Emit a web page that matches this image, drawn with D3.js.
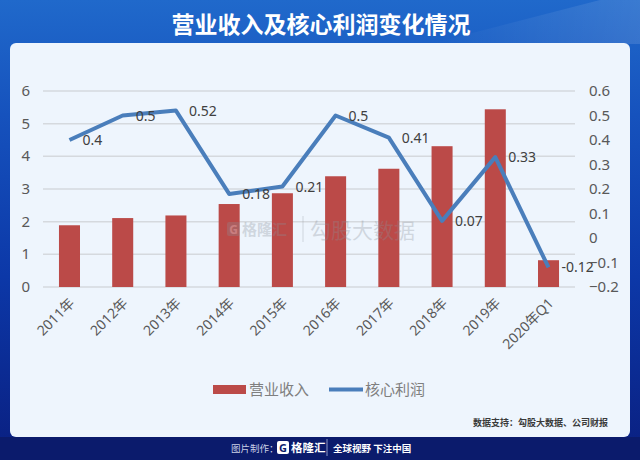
<!DOCTYPE html>
<html><head><meta charset="utf-8">
<script src="https://cdn.jsdelivr.net/npm/d3@7/dist/d3.min.js"></script>
<style>html,body{margin:0;padding:0;background:#0c1b6c;}svg{display:block;}</style>
</head><body>
<svg id="c" width="640" height="460"></svg>
<script>
const categories = ["2011年","2012年","2013年","2014年","2015年","2016年","2017年","2018年","2019年","2020年Q1"];
const revenue = [1.89, 2.11, 2.19, 2.54, 2.87, 3.39, 3.62, 4.31, 5.44, 0.82];
const coreProfit = [0.4, 0.5, 0.52, 0.18, 0.21, 0.5, 0.41, 0.07, 0.33, -0.12];
const profitLabels = ["0.4","0.5","0.52","0.18","0.21","0.5","0.41","0.07","0.33","-0.12"];
const leftTicks = [0,1,2,3,4,5,6];
const rightTicks = [-0.2,-0.1,0,0.1,0.2,0.3,0.4,0.5,0.6];
const title = "营业收入及核心利润变化情况";
const legendNames = ["营业收入","核心利润"];
const source = "数据支持：勾股大数据、公司财报";

const svg = d3.select("#c");
const FONT = "'Noto Sans','Noto Sans CJK SC',sans-serif";
const CJK = "'Noto Sans CJK SC','Noto Sans',sans-serif";

// background
const defs = svg.append("defs");
const bg = defs.append("linearGradient").attr("id","bg").attr("x1",0).attr("y1",0).attr("x2",0).attr("y2",1);
bg.append("stop").attr("offset","0%").attr("stop-color","#2069cb");
bg.append("stop").attr("offset","25%").attr("stop-color","#1652bd");
bg.append("stop").attr("offset","60%").attr("stop-color","#0c38a8");
bg.append("stop").attr("offset","100%").attr("stop-color","#0a1f80");
svg.append("rect").attr("width",640).attr("height",460).attr("fill","url(#bg)");
const hl = defs.append("linearGradient").attr("id","hl").attr("x1",0).attr("y1",0).attr("x2",1).attr("y2",0);
hl.append("stop").attr("offset","0%").attr("stop-color","#ffffff").attr("stop-opacity",0);
hl.append("stop").attr("offset","100%").attr("stop-color","#ffffff").attr("stop-opacity",0.12);
svg.append("path").attr("d","M430,44 L600,0 L640,0 L640,44 Z").attr("fill","url(#hl)");
svg.append("rect").attr("x",0).attr("y",437).attr("width",640).attr("height",23).attr("fill","#0b1b6c");

svg.append("text").attr("x",321).attr("y",33).attr("text-anchor","middle")
  .attr("font-family",CJK).attr("font-weight","bold").attr("font-size",23)
  .attr("fill","#ffffff").text(title);

// card
svg.append("rect").attr("x",10).attr("y",43).attr("width",620).attr("height",394).attr("rx",6)
  .attr("fill","#eef5fd");

// scales
const x = d3.scaleBand().domain(categories).range([43,575]).paddingInner(0.605).paddingOuter(0.3);
const yL = d3.scaleLinear().domain([0,6]).range([287,91]);
const yR = d3.scaleLinear().domain([-0.2,0.6]).range([287,91]);

// grid
svg.append("g").selectAll("line").data(leftTicks).join("line")
  .attr("x1",43).attr("x2",575).attr("y1",d=>yL(d)).attr("y2",d=>yL(d))
  .attr("stroke","#d5d9de").attr("stroke-width",1.5);

// bars
svg.append("g").selectAll("rect").data(revenue).join("rect")
  .attr("x",(d,i)=>x(categories[i])).attr("width",x.bandwidth())
  .attr("y",d=>yL(d)).attr("height",d=>yL(0)-yL(d)).attr("fill","#bb4a48");

// watermark (on top, translucent)
const wm = svg.append("g").attr("opacity",0.3);
wm.append("rect").attr("x",227).attr("y",222).attr("width",13).attr("height",14).attr("rx",2).attr("fill","#8a9099");
wm.append("text").attr("x",233.5).attr("y",234).attr("text-anchor","middle").attr("font-family",FONT).attr("font-weight","bold").attr("font-size",12).attr("fill","#eef5fd").text("G");
wm.append("text").attr("x",242).attr("y",235).attr("font-family",CJK).attr("font-weight","bold").attr("font-size",15).attr("fill","#8a9099").text("格隆汇");
wm.append("line").attr("x1",303).attr("x2",303).attr("y1",216).attr("y2",242).attr("stroke","#8a9099").attr("stroke-width",1);
wm.append("text").attr("x",310).attr("y",238).attr("font-family",CJK).attr("font-size",21).attr("fill","#8a9099").text("勾股大数据");

// line
const cx = i => x(categories[i]) + x.bandwidth()/2;
const line = d3.line().x((d,i)=>cx(i)).y(d=>yR(d));
svg.append("path").datum(coreProfit).attr("d",line).attr("fill","none")
  .attr("stroke","#4a7ebb").attr("stroke-width",4).attr("stroke-linejoin","round");

// data labels
svg.append("g").selectAll("text").data(coreProfit).join("text")
  .attr("x",(d,i)=>cx(i)+13).attr("y",d=>yR(d)+5)
  .attr("font-family",FONT).attr("font-size",14).attr("fill","#404040")
  .text((d,i)=>profitLabels[i]);

// left axis
svg.append("g").selectAll("text").data(leftTicks).join("text")
  .attr("x",30).attr("y",d=>yL(d)+5).attr("text-anchor","end")
  .attr("font-family",FONT).attr("font-size",15).attr("fill","#595959").text(d=>d);
// right axis
svg.append("g").selectAll("text").data(rightTicks).join("text")
  .attr("x",589).attr("y",d=>yR(d)+5).attr("text-anchor","start")
  .attr("font-family",FONT).attr("font-size",15).attr("fill","#595959").text(d=>d3.format("")(+d.toFixed(1)));

// x labels
svg.append("g").selectAll("text").data(categories).join("text")
  .attr("transform",(d,i)=>`translate(${cx(i)+6},${304}) rotate(-45)`)
  .attr("text-anchor","end").attr("font-family",FONT).attr("font-size",14)
  .attr("fill","#595959").text(d=>d);

// legend
const lg = svg.append("g");
lg.append("rect").attr("x",213).attr("y",385).attr("width",33).attr("height",9).attr("fill","#bb4a48");
lg.append("text").attr("x",249).attr("y",395).attr("font-family",CJK).attr("font-size",15).attr("fill","#7f7f7f").text(legendNames[0]);
lg.append("line").attr("x1",329).attr("x2",363).attr("y1",389.5).attr("y2",389.5).attr("stroke","#4a7ebb").attr("stroke-width",4);
lg.append("text").attr("x",365).attr("y",395).attr("font-family",CJK).attr("font-size",15).attr("fill","#7f7f7f").text(legendNames[1]);

// source
svg.append("text").attr("x",608).attr("y",426).attr("text-anchor","end")
  .attr("font-family",CJK).attr("font-weight","bold").attr("font-size",9).attr("fill","#3a3a3a").text(source);

// footer
const ft = svg.append("g");
ft.append("text").attr("x",231).attr("y",452).attr("font-family",CJK).attr("font-size",9.5).attr("fill","#c9d0e6").text("图片制作：");
ft.append("rect").attr("x",277).attr("y",441).attr("width",12).attr("height",13).attr("rx",2).attr("fill","#ffffff");
ft.append("text").attr("x",283).attr("y",452).attr("text-anchor","middle").attr("font-family",FONT).attr("font-weight","bold").attr("font-size",11).attr("fill","#0b1b6c").text("G");
ft.append("text").attr("x",291).attr("y",452).attr("font-family",CJK).attr("font-weight","bold").attr("font-size",11.5).attr("fill","#ffffff").text("格隆汇");
ft.append("line").attr("x1",327).attr("x2",327).attr("y1",439).attr("y2",456).attr("stroke","#8a96c4").attr("stroke-width",1);
ft.append("text").attr("x",333).attr("y",452).attr("font-family",CJK).attr("font-weight","bold").attr("font-size",9.5).attr("fill","#ffffff").text("全球视野 下注中国");
</script>
</body></html>
